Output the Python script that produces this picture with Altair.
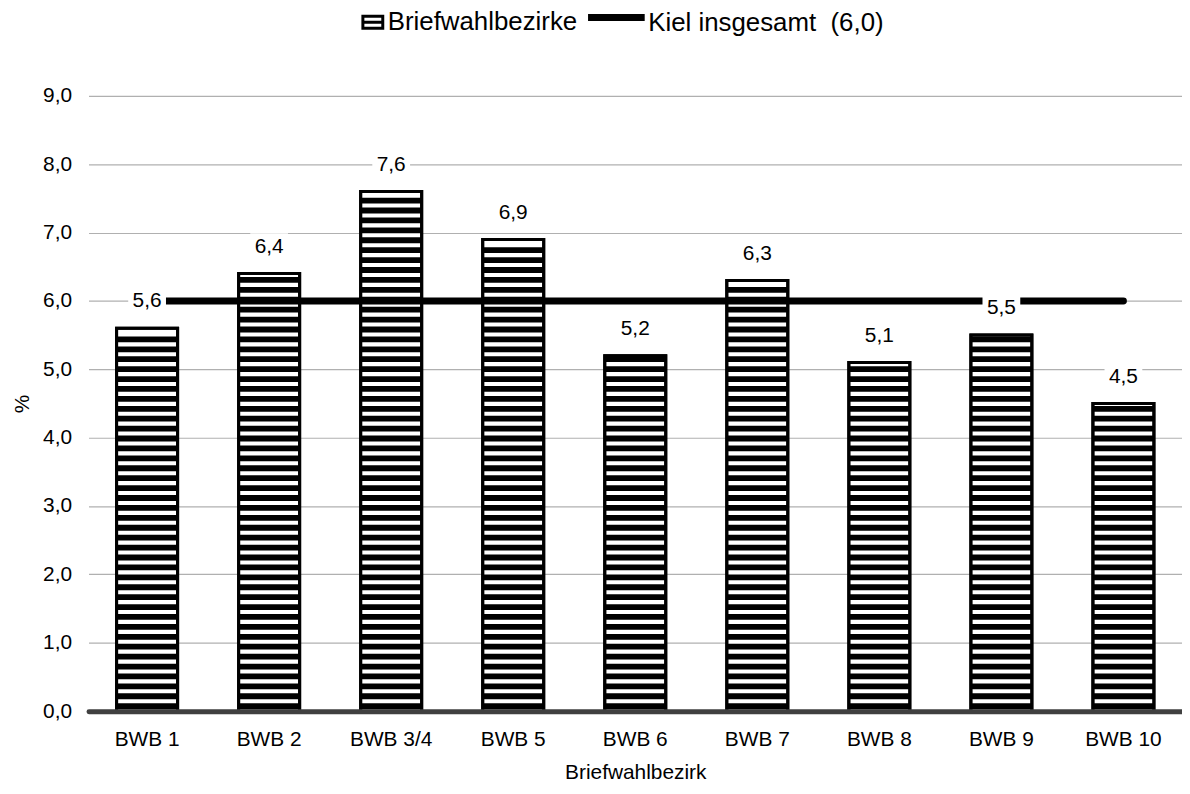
import altair as alt
import pandas as pd

categories = ["BWB 1", "BWB 2", "BWB 3/4", "BWB 5", "BWB 6", "BWB 7", "BWB 8", "BWB 9", "BWB 10"]
values = [5.6, 6.4, 7.6, 6.9, 5.2, 6.3, 5.1, 5.5, 4.5]
kiel_total = 6.0
bar_series = "Briefwahlbezirke"
line_series = "Kiel insgesamt \u00a0(6,0)"
y_ticks = [0, 1, 2, 3, 4, 5, 6, 7, 8, 9]

FONT = "Liberation Sans"

df = pd.DataFrame({
    "bwb": categories,
    "value": values,
    "kiel": [kiel_total] * len(categories),
    "series": [bar_series] * len(categories),
    "lseries": [line_series] * len(categories),
})

x_enc = alt.X(
    "bwb:N",
    sort=categories,
    scale=alt.Scale(paddingInner=0.5, paddingOuter=0.23),
    axis=alt.Axis(
        title="Briefwahlbezirk",
        labelAngle=0,
        ticks=False,
        domain=True,
        domainColor="#404040",
        domainWidth=5,
        domainCap="round",
        grid=False,
        labelFont=FONT,
        labelFontSize=21,
        labelColor="#000000",
        labelPadding=18,
        titleFont=FONT,
        titleFontSize=21,
        titleFontWeight="normal",
        titleColor="#000000",
        titlePadding=12,
        zindex=1,
    ),
)

y_scale = alt.Scale(domain=[0, 9], nice=False, zero=True)
y_axis = alt.Axis(
    title="%",
    values=y_ticks,
    labelExpr="replace(format(datum.value, '.1f'), '.', ',')",
    ticks=False,
    domain=False,
    grid=True,
    gridColor="#b0b0b0",
    gridWidth=1.2,
    labelFont=FONT,
    labelFontSize=21,
    labelColor="#000000",
    labelPadding=17,
    titleFont=FONT,
    titleFontSize=21,
    titleFontWeight="normal",
    titleColor="#000000",
    titlePadding=10,
)

stripe_path = "M-1,-0.6H1V0.6H-1Z M-1,0H1"
line_path = "M-2,-0.4H2"

base = alt.Chart(df)

bars = base.mark_bar(stroke="black", strokeWidth=3).encode(
    x=x_enc,
    y=alt.Y("value:Q", scale=y_scale, axis=y_axis),
    fill=alt.Fill(
        "series:N",
        scale=alt.Scale(domain=[bar_series], range=["white"]),
        legend=alt.Legend(
            orient="none",
            legendX=273,
            legendY=-87,
            title=None,
            symbolType=stripe_path,
            symbolSize=400,
            symbolStrokeColor="black",
            symbolStrokeWidth=3,
            labelFont=FONT,
            labelFontSize=26,
            labelColor="#000000",
            labelOffset=2,
            labelLimit=0,
            padding=0,
        ),
    ),
)

stripes = (
    base.transform_calculate(s="sequence(0.03, datum.value - 0.06, 0.145)")
    .transform_flatten(["s"])
    .transform_calculate(s2="min(datum.s + 0.085, datum.value)")
    .mark_bar(color="black")
    .encode(x=x_enc, y=alt.Y("s:Q", scale=y_scale), y2="s2:Q")
)

outline = base.mark_bar(fillOpacity=0, stroke="black", strokeWidth=3).encode(
    x=x_enc, y=alt.Y("value:Q", scale=y_scale)
)

line = base.mark_line(strokeWidth=7, strokeCap="round").encode(
    x=x_enc,
    y=alt.Y("kiel:Q", scale=y_scale),
    stroke=alt.Stroke(
        "lseries:N",
        scale=alt.Scale(domain=[line_series], range=["black"]),
        legend=alt.Legend(
            orient="none",
            legendX=513,
            legendY=-91,
            title=None,
            symbolType=line_path,
            symbolSize=812,
            symbolStrokeWidth=7,
            labelFont=FONT,
            labelFontSize=26,
            labelColor="#000000",
            labelOffset=14,
            labelLimit=0,
            padding=0,
        ),
    ),
)

boxes = (
    base.transform_calculate(b1="datum.value + 0.19", b2="datum.value + 0.59")
    .mark_bar(color="white", width=38)
    .encode(x=x_enc, y=alt.Y("b1:Q", scale=y_scale), y2="b2:Q")
)

labels = (
    base.transform_calculate(lbl="replace(format(datum.value, '.1f'), '.', ',')")
    .mark_text(dy=-27, font=FONT, fontSize=21, color="black", baseline="middle")
    .encode(x=x_enc, y=alt.Y("value:Q", scale=y_scale), text="lbl:N")
)

chart = (
    alt.layer(bars, stripes, outline, line, boxes, labels)
    .properties(
        width=1100,
        height=619,
        autosize=alt.AutoSizeParams(type="none"),
        padding={"left": 81, "top": 86, "right": 0, "bottom": 80},
        background="white",
    )
    .configure_view(stroke=None)
)

chart.save("out.html", embed_options={"renderer": "svg", "actions": False})
